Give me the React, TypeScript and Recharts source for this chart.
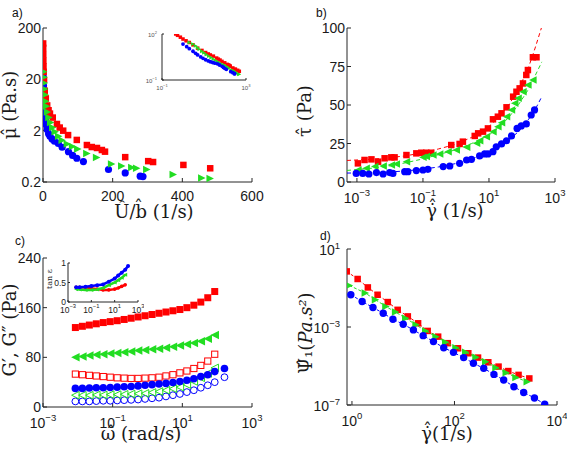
import React from 'react';
import { ScatterChart, Scatter, XAxis, YAxis } from 'recharts';

const RED = '#ff0000';
const GREEN = '#22dd22';
const BLUE = '#0000ff';
const AXIS = '#262626';
const TICK_FONT = '"Liberation Sans", Arial, sans-serif';
const TITLE_FONT = '"DejaVu Serif", "Liberation Serif", serif';

// ---------- Panel a: viscosity vs U/b ----------
const aRedX = [0.45, 0.55, 0.75, 1.0, 1.4, 2.0, 3.0, 5, 8, 12, 16, 20, 28, 40, 48, 58, 72, 97, 126, 140, 155, 169, 178, 236, 302, 316, 403, 480];
const aRedY = [100, 82, 62, 47, 36, 28, 19.5, 12, 8.5, 6.2, 5, 4.3, 3.6, 2.7, 2.3, 2.0, 1.64, 1.32, 1.05, 0.96, 0.92, 0.84, 0.78, 0.61, 0.51, 0.49, 0.43, 0.37];
const aGreenX = [2, 3, 4, 5, 6, 8, 10, 13, 17, 22, 28, 35, 45, 55, 70, 85, 100, 126, 154, 197, 226, 255, 269, 298, 374, 456, 480];
const aGreenY = [28, 22, 17, 13, 10, 7.5, 6, 4.6, 3.6, 2.9, 2.3, 1.9, 1.55, 1.3, 1.1, 0.98, 0.88, 0.72, 0.6, 0.45, 0.41, 0.385, 0.37, 0.35, 0.28, 0.24, 0.235];
const aBlueX = [1, 1.5, 2, 3, 4, 5, 7, 9, 12, 16, 20, 26, 33, 44, 55, 73, 85, 97, 116, 188, 236, 279, 287];
const aBlueY = [22, 15, 11, 7.5, 5.5, 4.3, 3.2, 2.6, 2.1, 1.75, 1.55, 1.38, 1.25, 1.13, 0.95, 0.78, 0.66, 0.58, 0.5, 0.35, 0.3, 0.26, 0.255];
const aXTicks = [0, 200, 400, 600];
const aYTicks = [0.2, 2, 20, 200];
const aInsetXTicks = [0.1, 1000];
const aInsetYTicks = [0.1, 100];

// ---------- Panel b: shear stress vs shear rate ----------
const bRedX = [0.00107, 0.0017, 0.00275, 0.00437, 0.0069, 0.011, 0.0138, 0.0316, 0.063, 0.089, 0.126, 0.178, 0.72, 1.29, 1.62, 3.7, 4.7, 6.6, 9.3, 13.2, 18.6, 24, 34, 54, 68, 85, 107, 135, 151, 214, 275];
const bRedY = [12.1, 14.3, 14.7, 13.2, 15.4, 16, 16, 17.5, 18.6, 19, 19, 19, 24, 24.7, 26.2, 29.9, 31.6, 32.7, 34.8, 40.7, 42.4, 44.6, 48.5, 55.4, 58.6, 60.8, 64, 69.5, 72.7, 81, 81];
const bGreenX = [0.00107, 0.0019, 0.00347, 0.0062, 0.011, 0.0155, 0.0316, 0.1, 0.126, 0.2, 0.32, 0.575, 1.02, 2.1, 4.2, 5.2, 8.3, 13.2, 18.6, 24, 34, 48, 60, 76, 107, 151, 214];
const bGreenY = [7.8, 8.9, 10, 10.4, 11, 11.7, 13.2, 16, 16.5, 17.5, 18.2, 19.7, 20.8, 22.5, 25.1, 26.8, 29.4, 32.7, 35.9, 38.5, 42.4, 46.8, 51.1, 54.4, 58.6, 63, 66.2];
const bBlueX = [0.00095, 0.0015, 0.0023, 0.0039, 0.0062, 0.0098, 0.0123, 0.028, 0.035, 0.063, 0.1, 0.141, 0.41, 0.65, 1.29, 2.1, 2.95, 5.2, 7.4, 9.3, 13.2, 16.6, 24, 34, 48, 71, 95, 135, 190, 240];
const bBlueY = [5.6, 5.6, 5.2, 6.1, 5.2, 6.1, 5.6, 6.7, 6.7, 7.4, 7.8, 8.2, 10, 10.4, 12.1, 14.3, 14.7, 16.9, 18.2, 18.2, 19.7, 22.9, 24.7, 26.8, 29.9, 34.8, 36.4, 37.7, 43.5, 46.8];
const bFitX = [0.0005, 0.003, 0.01, 0.03, 0.1, 0.3, 1, 3, 10, 20, 40, 80, 150, 250, 400];
const bFitRedY = [14, 14.8, 15.8, 17, 19, 21.5, 24.5, 29, 36, 42, 50, 61, 73, 87, 101];
const bFitGreenY = [7.5, 9, 10.5, 12.5, 15, 17.8, 21, 25, 30.5, 35.5, 42, 50.5, 59.5, 69, 78];
const bFitBlueY = [5.8, 6, 6.5, 7.2, 8.3, 9.8, 12, 15, 19, 22.5, 27, 33, 40, 47, 55.5];
const bXTicks = [0.001, 0.1, 10, 1000];
const bYTicks = [0, 25, 50, 75, 100];

// ---------- Panel c: moduli vs frequency ----------
const cOmega = [0.0085, 0.0135, 0.0214, 0.0339, 0.0537, 0.0851, 0.135, 0.214, 0.339, 0.537, 0.851, 1.35, 2.14, 3.39, 5.37, 8.51, 13.5, 21.4, 33.9, 53.7, 85.1];
const cOmegaBlue = [0.0085, 0.0135, 0.0214, 0.0339, 0.0537, 0.0851, 0.135, 0.214, 0.339, 0.537, 0.851, 1.35, 2.14, 3.39, 5.37, 8.51, 13.5, 21.4, 33.9, 53.7, 85.1, 162];
const cRedStorage = [128, 130, 132, 134, 136, 137.5, 139, 141, 143, 145, 147, 149, 151, 153, 155, 157, 160, 164, 169, 176, 186];
const cGreenStorage = [80, 81.5, 83, 84, 85, 86, 87, 88, 89.5, 91, 92, 93, 94, 95.5, 97, 99, 101, 103, 106, 110, 116];
const cBlueStorage = [30, 30, 30.5, 31, 31, 31.5, 32, 32.5, 33, 34, 35, 36, 37, 38, 39.5, 41, 43, 45.5, 49, 52, 57, 62];
const cRedLoss = [53, 52, 51, 50, 49, 48, 47, 46.5, 46, 46, 46.5, 47, 48, 50, 52, 55, 58, 62, 67, 74, 85];
const cGreenLoss = [19, 19, 19, 19.5, 19.5, 20, 20, 20.5, 21, 21.5, 22, 23.5, 25, 27, 29.5, 32, 36, 41, 47, 54, 63];
const cBlueLoss = [9, 9, 9, 9.5, 10, 10, 10.5, 11, 11.5, 12, 13, 14, 15, 17, 19, 21, 24, 27, 31, 35, 40, 48];
const cXTicks = [0.001, 0.1, 10, 1000];
const cYTicks = [0, 80, 160, 240];
const cTanX = [0.005, 0.01, 0.0316, 0.1, 0.316, 1, 3.16, 10, 20, 40, 80, 141];
const cTanBlue = [0.38, 0.38, 0.39, 0.41, 0.43, 0.45, 0.52, 0.6, 0.68, 0.75, 0.83, 0.92];
const cTanGreen = [0.33, 0.32, 0.31, 0.31, 0.32, 0.36, 0.43, 0.5, 0.56, 0.62, 0.7];
const cTanRed = [0.38, 0.38, 0.37, 0.35, 0.33, 0.31, 0.31, 0.33, 0.36, 0.4, 0.44];
const cInsetYTicks = [0, 0.5, 1];

// ---------- Panel d: first normal stress coefficient ----------
const dRedX = [0.79, 1.29, 2.04, 3.16, 5.0, 7.8, 12.3, 19.5, 30, 48, 74, 117, 186, 288, 457, 724, 1122, 1778, 2884];
const dRedY = [0.71, 0.29, 0.107, 0.045, 0.019, 0.0076, 0.0035, 0.00155, 0.00063, 0.00032, 0.000148, 8.1e-5, 4.5e-5, 2.7e-5, 1.55e-5, 9.3e-6, 5.5e-6, 3.5e-6, 2.3e-6];
const dGreenX = [0.89, 1.82, 2.88, 4.6, 7.1, 11.2, 17.8, 27.5, 43.7, 67.6, 107, 166, 263, 407, 646, 1023, 1585, 2630];
const dGreenY = [0.135, 0.055, 0.025, 0.0112, 0.0058, 0.0028, 0.00129, 0.00063, 0.00032, 0.000166, 8.7e-5, 5.0e-5, 2.8e-5, 1.66e-5, 8.1e-6, 4.5e-6, 2.6e-6, 1.55e-6];
const dBlueX = [0.95, 1.58, 2.57, 4.07, 6.3, 10, 15.8, 24.5, 38.9, 61.7, 95.5, 151, 234, 372, 589, 912, 1445, 2239, 3631, 5754];
const dBlueY = [0.045, 0.0204, 0.01, 0.0051, 0.0025, 0.00138, 0.00071, 0.00036, 0.000178, 8.7e-5, 5.0e-5, 2.7e-5, 1.38e-5, 7.6e-6, 3.7e-6, 1.9e-6, 8.7e-7, 4.4e-7, 2.3e-7, 1.1e-7];
const dXTicks = [1, 100, 10000];
const dYTicks = [1e-7, 1e-3, 10];

const zip = (xs: number[], ys: number[]) => ys.map((y, i) => ({ x: xs[i], y }));

// ---------- marker shapes ----------
const square = (c: string, s: number, open = false) => (p: any) => (
  <rect x={p.cx - s / 2} y={p.cy - s / 2} width={s} height={s} fill={open ? 'none' : c} stroke={open ? c : 'none'} strokeWidth={1} />
);
const dot = (c: string, r: number, open = false) => (p: any) => (
  <circle cx={p.cx} cy={p.cy} r={r} fill={open ? 'none' : c} stroke={open ? c : 'none'} strokeWidth={1} />
);
const triL = (c: string, s: number, open = false) => (p: any) => (
  <polygon points={`${p.cx - s / 2},${p.cy} ${p.cx + s / 2},${p.cy - s / 2} ${p.cx + s / 2},${p.cy + s / 2}`} fill={open ? 'none' : c} stroke={open ? c : 'none'} strokeWidth={1} />
);
const triR = (c: string, s: number, open = false) => (p: any) => (
  <polygon points={`${p.cx + s / 2},${p.cy} ${p.cx - s / 2},${p.cy - s / 2} ${p.cx - s / 2},${p.cy + s / 2}`} fill={open ? 'none' : c} stroke={open ? c : 'none'} strokeWidth={1} />
);
const nothing = () => <g />;

// ---------- tick ----------
const Tick = (p: any) => {
  const { x, y, payload, side, pow, fs, fill } = p;
  const v = payload.value;
  let main = String(v);
  let sup: string | null = null;
  if (pow) {
    const e = Math.round(Math.log10(v));
    main = '10';
    sup = e < 0 ? '\u2212' + String(-e) : String(e);
  }
  const anchor = side === 'bottom' ? 'middle' : 'end';
  const ty = side === 'bottom' ? y + fs * (pow ? 1.12 : 0.85) : y + fs * (pow ? 0.45 : 0.36);
  return (
    <text x={x} y={ty} textAnchor={anchor} fontSize={fs} fill={fill || '#1a1a1a'} fontFamily={TICK_FONT}>
      {main}
      {sup !== null && (
        <tspan dy={-fs * 0.48} fontSize={fs * 0.68}>{sup}</tspan>
      )}
    </text>
  );
};

type Ax = { domain: [number, number]; ticks: number[]; log?: boolean; pow?: boolean; fs: number; margin: number; len: number; size: number; fill?: string };

const axes = (x: Ax, y: Ax) => [
  <XAxis key="xb" xAxisId="m" dataKey="x" type="number" orientation="bottom" scale={x.log ? 'log' : 'linear'} domain={x.domain} ticks={x.ticks} interval={0} allowDataOverflow height={x.size} stroke={AXIS} tickSize={-x.len} tickMargin={x.margin} tick={<Tick side="bottom" pow={x.pow} fs={x.fs} fill={x.fill} />} />,
  <XAxis key="xt" xAxisId="t" type="number" orientation="top" scale={x.log ? 'log' : 'linear'} domain={x.domain} ticks={x.ticks} interval={0} allowDataOverflow height={0} stroke={AXIS} tickSize={-x.len} tick={false} />,
  <YAxis key="yl" yAxisId="m" dataKey="y" type="number" orientation="left" scale={y.log ? 'log' : 'linear'} domain={y.domain} ticks={y.ticks} interval={0} allowDataOverflow width={y.size} stroke={AXIS} tickSize={-y.len} tickMargin={y.margin} tick={<Tick side="left" pow={y.pow} fs={y.fs} fill={y.fill} />} />,
  <YAxis key="yr" yAxisId="r" type="number" orientation="right" scale={y.log ? 'log' : 'linear'} domain={y.domain} ticks={y.ticks} interval={0} allowDataOverflow width={0} stroke={AXIS} tickSize={-y.len} tick={false} />,
];

const S = (props: any) => <Scatter xAxisId="m" yAxisId="m" isAnimationActive={false} {...props} />;

const Box = ({ left, top, children }: any) => (
  <div style={{ position: 'absolute', left, top }}>{children}</div>
);

export default function App() {
  return (
    <div style={{ position: 'absolute', left: 0, top: 0, width: 567, height: 450, background: '#fff', overflow: 'hidden' }}>
      {/* Panel a */}
      <Box left={0} top={0}>
        <ScatterChart width={280} height={225} margin={{ top: 28, right: 28, bottom: 13, left: 0 }}>
          {axes(
            { domain: [0, 600], ticks: aXTicks, fs: 14, margin: 11, len: 4, size: 30 },
            { domain: [0.2, 200], ticks: aYTicks, log: true, fs: 14, margin: 6, len: 4, size: 43 },
          )}
          {S({ data: zip(aBlueX, aBlueY), shape: dot(BLUE, 3.6) })}
          {S({ data: zip(aRedX, aRedY), shape: square(RED, 6.5) })}
          {S({ data: zip(aGreenX, aGreenY), shape: triR(GREEN, 7.5) })}
        </ScatterChart>
      </Box>
      {/* Inset a */}
      <Box left={145} top={30}>
        <ScatterChart width={110} height={62} margin={{ top: 4, right: 9, bottom: 4, left: 0 }}>
          {axes(
            { domain: [0.1, 1000], ticks: aInsetXTicks, log: true, pow: true, fs: 6, margin: 5, len: 2, size: 8, fill: '#555' },
            { domain: [0.1, 100], ticks: aInsetYTicks, log: true, pow: true, fs: 6, margin: 7, len: 2, size: 17, fill: '#555' },
          )}
          {S({ data: zip(aRedX, aRedY), shape: square(RED, 3.5) })}
          {S({ data: zip(aGreenX, aGreenY), shape: triR(GREEN, 3.8) })}
          {S({ data: zip(aBlueX, aBlueY), shape: dot(BLUE, 1.9) })}
        </ScatterChart>
      </Box>
      {/* Panel b */}
      <Box left={280} top={0}>
        <ScatterChart width={287} height={225} margin={{ top: 28, right: 12, bottom: 13, left: 0 }}>
          {axes(
            { domain: [0.0005, 1000], ticks: bXTicks, log: true, pow: true, fs: 14, margin: 9, len: 4, size: 30 },
            { domain: [0, 100], ticks: bYTicks, fs: 14, margin: 6, len: 4, size: 67 },
          )}
          {S({ data: zip(bFitX, bFitRedY), shape: nothing, line: { stroke: RED, strokeDasharray: '4 3', strokeWidth: 1 } })}
          {S({ data: zip(bFitX, bFitGreenY), shape: nothing, line: { stroke: GREEN, strokeDasharray: '4 3', strokeWidth: 1 } })}
          {S({ data: zip(bFitX, bFitBlueY), shape: nothing, line: { stroke: BLUE, strokeDasharray: '4 3', strokeWidth: 1 } })}
          {S({ data: zip(bRedX, bRedY), shape: square(RED, 6.5) })}
          {S({ data: zip(bGreenX, bGreenY), shape: triL(GREEN, 7.5) })}
          {S({ data: zip(bBlueX, bBlueY), shape: dot(BLUE, 3.6) })}
        </ScatterChart>
      </Box>
      {/* Panel c */}
      <Box left={0} top={225}>
        <ScatterChart width={280} height={225} margin={{ top: 33, right: 28, bottom: 13, left: 0 }}>
          {axes(
            { domain: [0.001, 1000], ticks: cXTicks, log: true, pow: true, fs: 14, margin: 9, len: 4, size: 30 },
            { domain: [0, 240], ticks: cYTicks, fs: 14, margin: 6, len: 4, size: 43 },
          )}
          {S({ data: zip(cOmegaBlue, cBlueLoss), shape: dot(BLUE, 3.4, true) })}
          {S({ data: zip(cOmega, cGreenLoss), shape: triL(GREEN, 7.5, true) })}
          {S({ data: zip(cOmega, cRedLoss), shape: square(RED, 6.2, true) })}
          {S({ data: zip(cOmegaBlue, cBlueStorage), shape: dot(BLUE, 3.8) })}
          {S({ data: zip(cOmega, cGreenStorage), shape: triL(GREEN, 8.5) })}
          {S({ data: zip(cOmega, cRedStorage), shape: square(RED, 7) })}
        </ScatterChart>
      </Box>
      {/* Inset c */}
      <Box left={44} top={255}>
        <ScatterChart width={100} height={64} margin={{ top: 8, right: 6, bottom: 7, left: 0 }}>
          {axes(
            { domain: [0.001, 1000], ticks: cXTicks, log: true, pow: true, fs: 8.5, margin: 3, len: 2, size: 10 },
            { domain: [0, 1], ticks: cInsetYTicks, fs: 8.5, margin: 4, len: 2, size: 24 },
          )}
          {S({ data: zip(cTanX, cTanRed), shape: dot(RED, 1.8), line: { stroke: RED, strokeWidth: 2.5 } })}
          {S({ data: zip(cTanX, cTanGreen), shape: triL(GREEN, 4), line: { stroke: GREEN, strokeWidth: 2.5 } })}
          {S({ data: zip(cTanX, cTanBlue), shape: dot(BLUE, 2), line: { stroke: BLUE, strokeWidth: 2.5 } })}
        </ScatterChart>
      </Box>
      {/* Panel d */}
      <Box left={280} top={225}>
        <ScatterChart width={287} height={225} margin={{ top: 24, right: 10, bottom: 15, left: 0 }}>
          {axes(
            { domain: [0.8, 10000], ticks: dXTicks, log: true, pow: true, fs: 14, margin: 9, len: 4, size: 30 },
            { domain: [1e-7, 10], ticks: dYTicks, log: true, pow: true, fs: 14, margin: 11, len: 4, size: 67 },
          )}
          {S({ data: zip(dRedX, dRedY), shape: square(RED, 6.5), line: { stroke: RED, strokeDasharray: '3 2', strokeWidth: 1 } })}
          {S({ data: zip(dGreenX, dGreenY), shape: triR(GREEN, 7.5), line: { stroke: GREEN, strokeDasharray: '3 2', strokeWidth: 1 } })}
          {S({ data: zip(dBlueX, dBlueY), shape: dot(BLUE, 3.7), line: { stroke: BLUE, strokeDasharray: '3 2', strokeWidth: 1 } })}
        </ScatterChart>
      </Box>
      {/* Titles and panel letters */}
      <svg width={567} height={450} style={{ position: 'absolute', left: 0, top: 0, pointerEvents: 'none' }}>
        <g fontFamily={TICK_FONT} fontSize={12} fill="#111">
          <text x={12} y={17}>a)</text>
          <text x={316} y={17}>b)</text>
          <text x={15} y={245}>c)</text>
          <text x={320} y={240}>d)</text>
        </g>
        <g fontFamily={TITLE_FONT} fontSize={18} fill="#1a1a1a" textAnchor="middle">
          <text x={154} y={218}>{'U\u0302/b\u0302 (1/s)'}</text>
          <text transform="translate(16,105) rotate(-90)">{'\u03BC\u0302 (Pa.s)'}</text>
          <text x={455} y={217}>{'\u03B3\u0307\u0302 (1/s)'}</text>
          <text transform="translate(311,111) rotate(-90)">{'\u03C4\u0302 (Pa)'}</text>
          <text x={141} y={440}>{'\u03C9\u0302 (rad/s)'}</text>
          <text transform="translate(16,330) rotate(-90)">{'G\u2032, G\u2033 (Pa)'}</text>
          <text x={447} y={440}>{'\u03B3\u0307\u0302(1/s)'}</text>
          <text transform="translate(312,333) rotate(-90)">
            {'\u03A8\u0302\u2081('}
            <tspan fontStyle="italic">{'Pa.s\u00B2'}</tspan>
            {')'}
          </text>
          <text transform="translate(52,279) rotate(-90)" fontSize={8}>{'tan \u03B5'}</text>
        </g>
      </svg>
    </div>
  );
}
